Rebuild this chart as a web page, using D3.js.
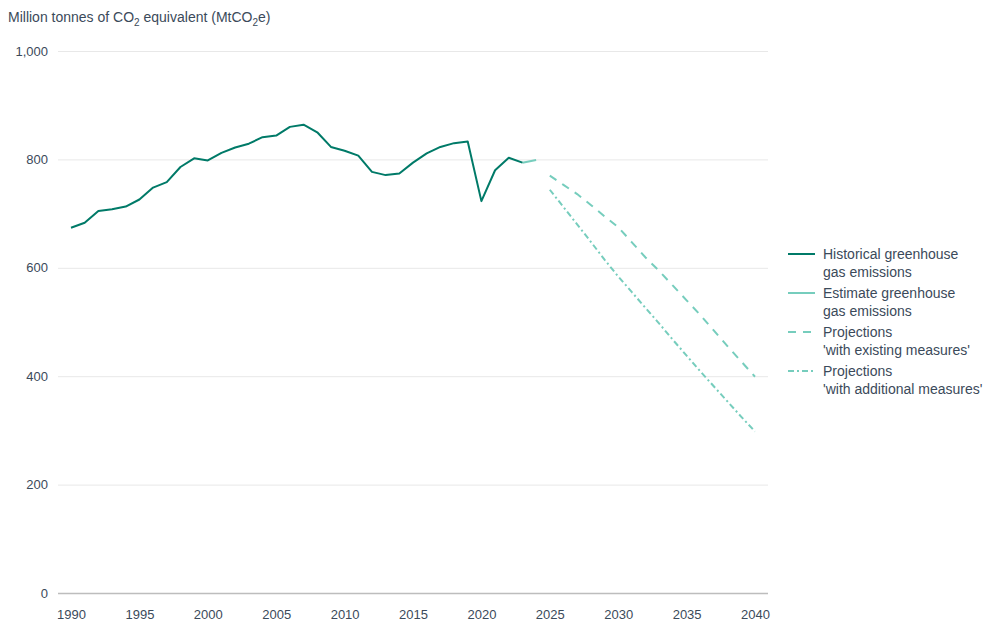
<!DOCTYPE html>
<html><head><meta charset="utf-8">
<script src="https://cdn.jsdelivr.net/npm/d3@7"></script>
<style>
body{margin:0;background:#fff;}
svg{font-family:"Liberation Sans",Arial,Helvetica,sans-serif;}
</style></head>
<body><svg id="c" width="1000" height="642"></svg>
<script>
const historicalYears = d3.range(1990, 2024);
const historicalValues = [674,683,705,708,713,726,748,758,786,802,798,812,822,829,841,844,860,864,850,823,816,807,777,771,774,794,811,823,830,833,723,780,803,794];
const estimateYears = [2023, 2024];
const estimateValues = [794, 799];
const projectionYears = d3.range(2025, 2041);
const wemValues = [770,753,736,716,695,675,647,619,594,567,540,513,484,455,427,399];
const wamValues = [744,712,680,648,615,584,555,526,497,467,438,409,381,353,325,298];
const yTicks = [0,200,400,600,800,1000];
const xTicks = [1990,1995,2000,2005,2010,2015,2020,2025,2030,2035,2040];

const dark = "#007a68", light = "#76cdbd", textCol = "#3b4a5a";
const svg = d3.select("#c");
const x = d3.scaleLinear().domain([1990, 2040]).range([71, 755]);
const y = d3.scaleLinear().domain([0, 1000]).range([593, 51]);
const gridL = 58, gridR = 768;

// title
const t = svg.append("text").attr("x", 8).attr("y", 22).attr("fill", textCol).attr("font-size", 14);
t.append("tspan").text("Million tonnes of CO");
t.append("tspan").text("2").attr("font-size", 10).attr("dy", 4);
t.append("tspan").text(" equivalent (MtCO").attr("dy", -4);
t.append("tspan").text("2").attr("font-size", 10).attr("dy", 4);
t.append("tspan").text("e)").attr("dy", -4);

// y grid & labels
const yAxis = d3.axisLeft(y).tickValues(yTicks).tickSize(-(gridR - gridL)).tickFormat(d3.format(","));
const gy = svg.append("g").attr("transform", `translate(${gridL},0)`).call(yAxis);
gy.select(".domain").remove();
gy.selectAll(".tick line").attr("stroke", d => d === 0 ? "#bdbdbd" : "#e8e8e8").attr("stroke-width", d => d === 0 ? 1.5 : 1);
gy.selectAll(".tick text").attr("fill", textCol).attr("font-size", 13).attr("x", -10).attr("font-family", "Liberation Sans, Arial, sans-serif");

// x labels
const xAxis = d3.axisBottom(x).tickValues(xTicks).tickSize(0).tickFormat(d3.format("d"));
const gx = svg.append("g").attr("transform", `translate(0,${y(0)})`).call(xAxis);
gx.select(".domain").remove();
gx.selectAll(".tick text").attr("fill", textCol).attr("font-size", 13).attr("dy", "1.75em").attr("font-family", "Liberation Sans, Arial, sans-serif");

const line = d3.line().x(d => x(d[0])).y(d => y(d[1]));
const zip = (a, b) => a.map((v, i) => [v, b[i]]);

svg.append("path").datum(zip(estimateYears, estimateValues)).attr("d", line)
  .attr("fill", "none").attr("stroke", light).attr("stroke-width", 2);
svg.append("path").datum(zip(historicalYears, historicalValues)).attr("d", line)
  .attr("fill", "none").attr("stroke", dark).attr("stroke-width", 2).attr("stroke-linejoin", "round");
svg.append("path").datum(zip(projectionYears, wemValues)).attr("d", line)
  .attr("fill", "none").attr("stroke", light).attr("stroke-width", 2).attr("stroke-dasharray", "8,7");
svg.append("path").datum(zip(projectionYears, wamValues)).attr("d", line)
  .attr("fill", "none").attr("stroke", light).attr("stroke-width", 2).attr("stroke-dasharray", "6,3,2,3");

// legend
const legend = [
  {lines:["Historical greenhouse","gas emissions"], color:dark, dash:null},
  {lines:["Estimate greenhouse","gas emissions"], color:light, dash:null},
  {lines:["Projections","'with existing measures'"], color:light, dash:"8,7"},
  {lines:["Projections","'with additional measures'"], color:light, dash:"6,3,2,3"}
];
const ly = [254, 293, 332, 371];
legend.forEach((l, i) => {
  const g = svg.append("g").attr("transform", `translate(788,${ly[i]})`);
  g.append("line").attr("x1", 0).attr("x2", 27).attr("y1", 0).attr("y2", 0)
    .attr("stroke", l.color).attr("stroke-width", 2).attr("stroke-dasharray", l.dash);
  l.lines.forEach((s, j) => g.append("text").attr("x", 35).attr("y", 5 + j * 18)
    .attr("fill", textCol).attr("font-size", 14).text(s));
});
</script></body></html>
